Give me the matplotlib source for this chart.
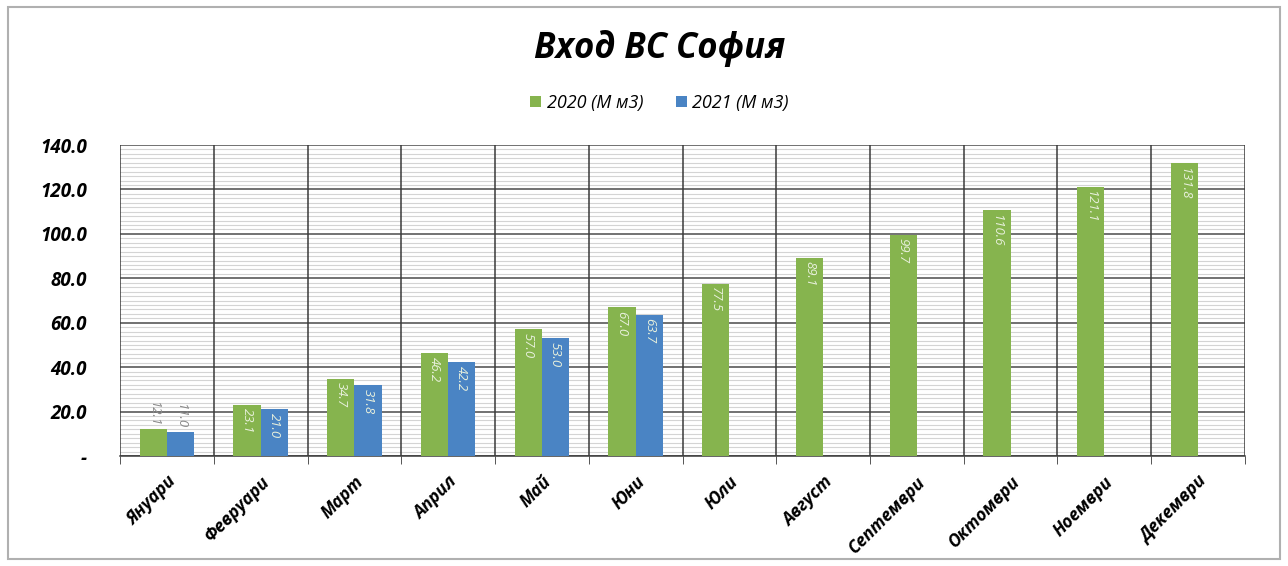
import numpy as np
import matplotlib
matplotlib.use("Agg")
import matplotlib.pyplot as plt
from matplotlib.patches import Rectangle
from matplotlib.ticker import MultipleLocator, FuncFormatter

# ==============================
# ДАННИ
# ==============================
months = ["Януари", "Февруари", "Март", "Април", "Май", "Юни",
          "Юли", "Август", "Септември", "Октомври", "Ноември", "Декември"]
vals_2020 = [12.1, 23.1, 34.7, 46.2, 57.0, 67.0, 77.5, 89.1, 99.7, 110.6, 121.1, 131.8]
vals_2021 = [11.0, 21.0, 31.8, 42.2, 53.0, 63.7]
series_names = ["2020 (М м3)", "2021 (М м3)"]

GREEN = "#86b44e"
BLUE = "#4a84c4"

plt.rcParams['font.family'] = ['Open Sans', 'DejaVu Sans']

fig = plt.figure(figsize=(12.88, 5.66), dpi=100)
ax = fig.add_axes([0.0932, 0.1943, 0.8734, 0.5495])

x = np.arange(len(months))
w = 0.29

b1 = ax.bar(x[:len(vals_2020)] - w / 2, vals_2020, width=w, color=GREEN, zorder=3)
b2 = ax.bar(x[:len(vals_2021)] + w / 2, vals_2021, width=w, color=BLUE, zorder=3)


def add_labels(bars, values):
    for rect, v in zip(bars, values):
        cx = rect.get_x() + rect.get_width() / 2
        if v < 15:
            ax.text(cx, v + 1.5, f"{v:.1f}", rotation=270, ha="center", va="bottom",
                    fontsize=9.5, style="italic", color="#8a8a8a", zorder=4)
        else:
            ax.text(cx, v - 1.5, f"{v:.1f}", rotation=270, ha="center", va="top",
                    fontsize=9.5, style="italic", color="#e8f0dc", zorder=4)


add_labels(b1, vals_2020)
add_labels(b2, vals_2021)

ax.set_xlim(-0.5, len(months) - 0.5)
ax.set_ylim(0, 140)
ax.yaxis.set_major_locator(MultipleLocator(20))
ax.yaxis.set_minor_locator(MultipleLocator(2))
ax.yaxis.set_major_formatter(FuncFormatter(lambda v, p: "-" if v == 0 else f"{v:.1f}"))

# решетка
ax.grid(axis="y", which="minor", color="#d4d4d4", lw=0.8, zorder=1)
ax.grid(axis="y", which="major", color="#4a4a4a", lw=1.1, zorder=2)
for b in np.arange(-0.5, len(months), 1.0):
    ax.axvline(b, color="#3a3a3a", lw=1.1, zorder=2)

for s in ["top", "right", "left"]:
    ax.spines[s].set_visible(False)
ax.spines["bottom"].set_color("#3a3a3a")
ax.spines["bottom"].set_linewidth(1.1)

ax.set_xticks(x)
ax.set_xticklabels(months, rotation=45, ha="right", rotation_mode="anchor",
                   fontsize=12.5, fontweight="bold", style="italic")
ax.tick_params(axis="x", length=0, pad=12)
ax.set_xticks(np.arange(-0.5, len(months), 1.0), minor=True)
ax.tick_params(axis="x", which="minor", length=6, color="#3a3a3a")
ax.tick_params(axis="y", which="both", length=0, pad=24)
for lab in ax.get_yticklabels():
    lab.set_fontsize(13.5)
    lab.set_fontweight("bold")
    lab.set_style("italic")

# заглавие и легенда
fig.text(0.512, 0.915, "Вход ВС София", ha="center", va="center",
         fontsize=25, fontweight="bold", style="italic")
fig.legend([b1, b2], series_names, loc="center", bbox_to_anchor=(0.512, 0.818),
           ncol=2, frameon=False, handlelength=0.6, handleheight=0.6,
           handletextpad=0.3, columnspacing=1.8,
           prop={"size": 13, "style": "italic"})

fig.patches.append(Rectangle((0.006, 0.012), 0.988, 0.976, transform=fig.transFigure,
                             fill=False, edgecolor="#b0b0b0", lw=1.5))

fig.savefig("out.png", dpi=100)
